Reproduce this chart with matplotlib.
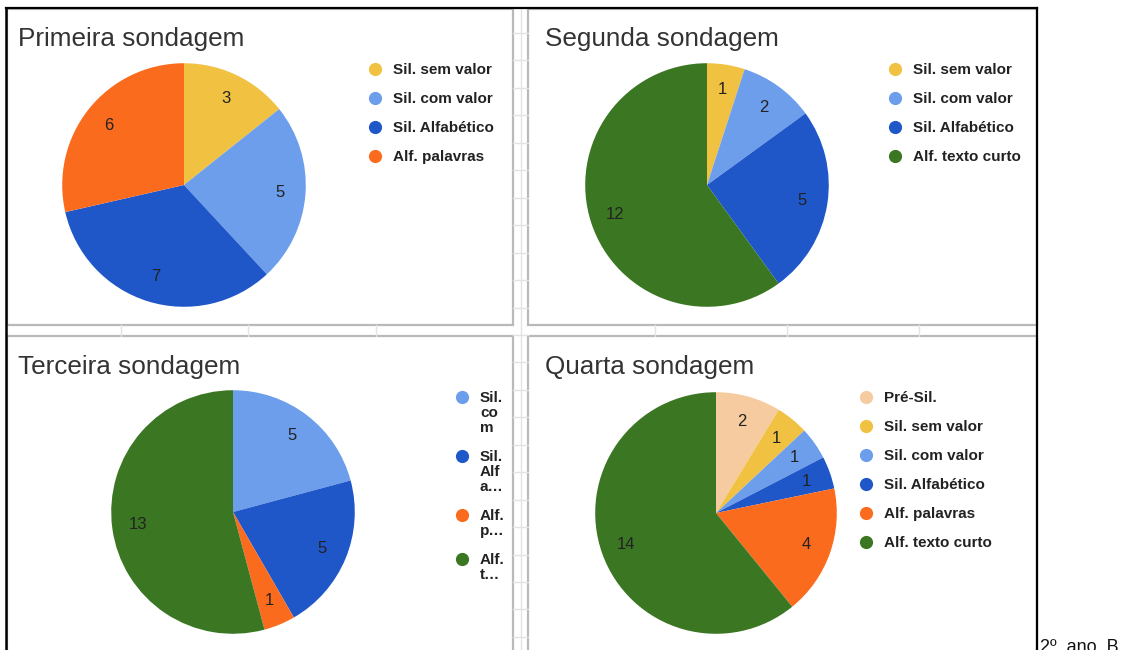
import matplotlib
matplotlib.use("Agg")
import matplotlib.pyplot as plt
from matplotlib.patches import Rectangle

plt.rcParams['font.family'] = ['Liberation Sans', 'DejaVu Sans']

# survey results (number of pupils per writing level)
titles = ["Primeira sondagem", "Segunda sondagem", "Terceira sondagem", "Quarta sondagem"]

cats1 = ["Sil. sem valor", "Sil. com valor", "Sil. Alfabético", "Alf. palavras"]
vals1 = [3, 5, 7, 6]

cats2 = ["Sil. sem valor", "Sil. com valor", "Sil. Alfabético", "Alf. texto curto"]
vals2 = [1, 2, 5, 12]

cats3 = ["Sil. com valor", "Sil. Alfabético", "Alf. palavras", "Alf. texto curto"]
vals3 = [5, 5, 1, 13]
# the third chart's legend is squeezed and wrapped/truncated in the screenshot
legend3 = ["Sil.\nco\nm", "Sil.\nAlf\na…", "Alf.\np…", "Alf.\nt…"]

cats4 = ["Pré-Sil.", "Sil. sem valor", "Sil. com valor", "Sil. Alfabético",
         "Alf. palavras", "Alf. texto curto"]
vals4 = [2, 1, 1, 1, 4, 14]

colors = {
    "Pré-Sil.": "#f6cb9f",
    "Sil. sem valor": "#f1c142",
    "Sil. com valor": "#6d9eeb",
    "Sil. Alfabético": "#1f57c9",
    "Alf. palavras": "#fb6b1e",
    "Alf. texto curto": "#3b7623",
}

W, H = 1139, 650
fig = plt.figure(figsize=(W / 100, H / 100), dpi=100)

# background axes in pixel coords (y downwards) for the spreadsheet look
bg = fig.add_axes([0, 0, 1, 1])
bg.set_xlim(0, W)
bg.set_ylim(H, 0)
bg.axis("off")

grid_c = "#e3e3e3"
# spreadsheet grid seen between the charts
for y in [33 + 27.45 * k for k in range(23)]:
    bg.plot([513, 528], [y, y], color=grid_c, lw=1)
bg.plot([521, 521], [8, H], color=grid_c, lw=1)
for x in [121, 248, 376, 655, 787, 919]:
    bg.plot([x, x], [325, 336], color=grid_c, lw=1)

# chart frames
panel_c = "#b9b9b9"
for (x0, y0, x1, y1) in [(7, 9, 513, 325), (528, 9, 1037, 325),
                         (7, 336, 513, 660), (528, 336, 1037, 660)]:
    bg.add_patch(Rectangle((x0, y0), x1 - x0, y1 - y0, facecolor="white",
                           edgecolor=panel_c, lw=1.6))

# black outer border from the document
bg.plot([6, 1037], [8, 8], color="black", lw=1.6)
bg.plot([6, 6], [8, H], color="black", lw=1.8)
bg.plot([1037, 1037], [8, H], color="black", lw=1.6)

# caption of the document, cut by the bottom edge as in the screenshot
bg.text(1040, 639, "2º  ano  B", fontsize=13, color="#111", va="top", ha="left")


def pie_panel(cx, cy, r, vals, cats, title, tx, ty, lx, ly, labels=None):
    ax = fig.add_axes([(cx - r) / W, 1 - (cy + r) / H, 2 * r / W, 2 * r / H])
    total = sum(vals)
    ax.pie(vals, colors=[colors[c] for c in cats], startangle=90, counterclock=False,
           radius=1, wedgeprops=dict(linewidth=0),
           autopct=lambda p: f"{p * total / 100:.0f}", pctdistance=0.79,
           textprops=dict(fontsize=12, color="#222222"))
    ax.set_xlim(-1.01, 1.01)
    ax.set_ylim(-1.01, 1.01)

    bg.text(tx, ty, title, fontsize=18.8, color="#333333", ha="left", va="baseline")

    # legend: dot + bold label, rows grow with the number of wrapped lines
    y = ly
    for c, lab in zip(cats, labels or cats):
        bg.plot(lx, y, "o", ms=9.5, color=colors[c], mec="none")
        lines = lab.split("\n")
        for i, line in enumerate(lines):
            bg.text(lx + 18, y + 5 + 15 * i, line, fontsize=11, fontweight="bold",
                    color="#222222", ha="left", va="baseline")
        y += 15 * len(lines) + 14


pie_panel(184, 185, 123, vals1, cats1, titles[0], 18, 46, 375, 69)
pie_panel(707, 185, 123, vals2, cats2, titles[1], 545, 46, 895, 69)
pie_panel(233, 512, 123, vals3, cats3, titles[2], 18, 374, 462, 397, labels=legend3)
pie_panel(716, 513, 122, vals4, cats4, titles[3], 545, 374, 866, 397)

fig.savefig("out.png", dpi=100)
